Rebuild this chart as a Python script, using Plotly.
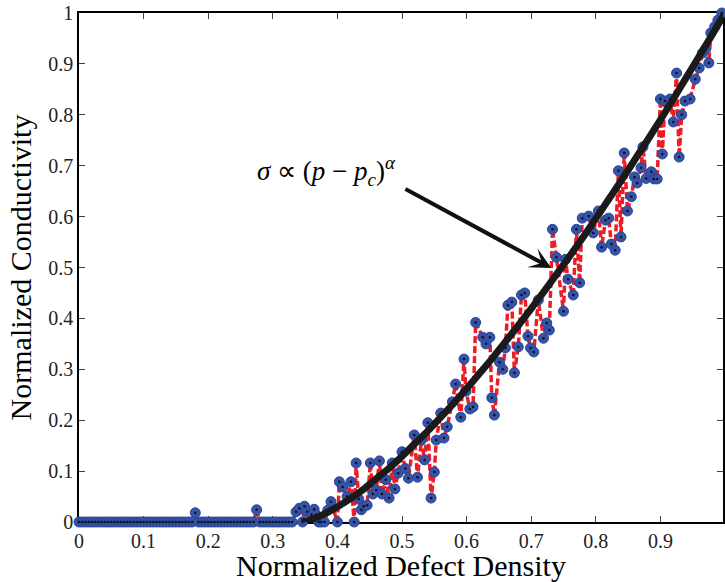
import plotly.graph_objects as go

# ---- data ----
# flat (non-conducting) region: sampled densities and their conductivity
flat_p = [i / 200 for i in range(66)]
flat_sigma = [0.0] * 66
flat_sigma[36] = 0.018   # p = 0.18
flat_sigma[55] = 0.024   # p = 0.275

# conducting region
rise_p = [0.330, 0.336, 0.341, 0.346, 0.349, 0.353, 0.360, 0.364, 0.367, 0.371,
          0.375, 0.380, 0.385, 0.390, 0.400, 0.403, 0.408, 0.415, 0.421, 0.426,
          0.429, 0.433, 0.437, 0.441, 0.446, 0.451, 0.455, 0.460, 0.465, 0.469,
          0.475, 0.480, 0.485, 0.489, 0.494, 0.500, 0.505, 0.510, 0.519, 0.524,
          0.530, 0.535, 0.540, 0.545, 0.550, 0.553, 0.560, 0.565, 0.570, 0.578,
          0.583, 0.591, 0.596, 0.599, 0.605, 0.610, 0.614, 0.625, 0.630, 0.636,
          0.639, 0.643, 0.651, 0.656, 0.660, 0.664, 0.670, 0.674, 0.680, 0.685,
          0.690, 0.695, 0.699, 0.704, 0.711, 0.719, 0.724, 0.728, 0.733, 0.739,
          0.750, 0.753, 0.757, 0.765, 0.770, 0.775, 0.779, 0.789, 0.796, 0.804,
          0.809, 0.815, 0.820, 0.824, 0.830, 0.835, 0.839, 0.844, 0.849, 0.855,
          0.860, 0.864, 0.870, 0.873, 0.878, 0.886, 0.890, 0.895, 0.900, 0.903,
          0.907, 0.915, 0.920, 0.925, 0.929, 0.933, 0.938, 0.946, 0.954, 0.960,
          0.965, 0.970, 0.975, 0.978, 0.984, 0.989, 0.995]
rise_sigma = [0.000, 0.020, 0.027, 0.000, 0.031, 0.020, 0.014, 0.025, 0.014, 0.000,
              0.000, 0.000, 0.023, 0.040, 0.000, 0.079, 0.069, 0.050, 0.079, 0.000,
              0.116, 0.045, 0.024, 0.031, 0.033, 0.116, 0.055, 0.063, 0.120, 0.055,
              0.083, 0.047, 0.116, 0.065, 0.096, 0.138, 0.105, 0.086, 0.171, 0.088,
              0.161, 0.122, 0.195, 0.047, 0.098, 0.161, 0.214, 0.165, 0.187, 0.236,
              0.271, 0.206, 0.320, 0.257, 0.222, 0.226, 0.392, 0.363, 0.350, 0.363,
              0.244, 0.210, 0.314, 0.300, 0.342, 0.426, 0.432, 0.293, 0.344, 0.446,
              0.450, 0.365, 0.342, 0.334, 0.436, 0.361, 0.391, 0.377, 0.575, 0.520,
              0.414, 0.516, 0.477, 0.446, 0.575, 0.470, 0.597, 0.601, 0.568, 0.611,
              0.540, 0.593, 0.597, 0.546, 0.534, 0.690, 0.560, 0.725, 0.611, 0.639,
              0.678, 0.666, 0.696, 0.737, 0.675, 0.688, 0.674, 0.674, 0.831, 0.723,
              0.827, 0.831, 0.786, 0.882, 0.717, 0.800, 0.827, 0.831, 0.870, 0.892,
              0.921, 0.929, 0.902, 0.961, 0.973, 0.986, 1.000]

# power-law fit curve sigma ~ (p - pc)^alpha
fit_p = [0.345, 0.36, 0.38, 0.40, 0.42, 0.44, 0.46, 0.48, 0.50, 0.52, 0.54, 0.56,
         0.58, 0.60, 0.62, 0.64, 0.66, 0.68, 0.70, 0.72, 0.74, 0.76, 0.78, 0.80,
         0.82, 0.84, 0.86, 0.88, 0.90, 0.92, 0.94, 0.96, 0.98, 1.00]
fit_sigma = [0.000, 0.005, 0.016, 0.030, 0.046, 0.064, 0.085, 0.106, 0.129, 0.154,
             0.179, 0.206, 0.233, 0.262, 0.292, 0.322, 0.354, 0.386, 0.419, 0.453,
             0.488, 0.523, 0.559, 0.596, 0.634, 0.672, 0.711, 0.750, 0.790, 0.831,
             0.873, 0.915, 0.957, 1.000]

x_ticks = [0, 0.1, 0.2, 0.3, 0.4, 0.5, 0.6, 0.7, 0.8, 0.9]
x_ticklabels = ["0", "0.1", "0.2", "0.3", "0.4", "0.5", "0.6", "0.7", "0.8", "0.9"]
y_ticks = [0, 0.1, 0.2, 0.3, 0.4, 0.5, 0.6, 0.7, 0.8, 0.9, 1]
y_ticklabels = ["0", "0.1", "0.2", "0.3", "0.4", "0.5", "0.6", "0.7", "0.8", "0.9", "1"]

p_all = flat_p + rise_p
s_all = flat_sigma + rise_sigma

FONT = "Liberation Serif"

fig = go.Figure()
fig.add_trace(go.Scatter(x=p_all, y=s_all, mode="lines",
                         line=dict(color="#ee1c24", width=3.5, dash="7px,3px"),
                         cliponaxis=False, hoverinfo="skip"))
fig.add_trace(go.Scatter(x=p_all, y=s_all, mode="markers",
                         marker=dict(color="#3553a8", size=10,
                                     line=dict(color="#2a4596", width=1)),
                         cliponaxis=False, hoverinfo="skip"))
fig.add_trace(go.Scatter(x=p_all, y=s_all, mode="markers",
                         marker=dict(color="#111111", size=2.5),
                         cliponaxis=False, hoverinfo="skip"))
fig.add_trace(go.Scatter(x=fit_p, y=fit_sigma, mode="lines", line_shape="spline",
                         line=dict(color="#1a1a1a", width=7),
                         cliponaxis=False, hoverinfo="skip"))

axis_common = dict(showgrid=False, zeroline=False, showline=True, linecolor="black",
                   linewidth=1.5, mirror="ticks", ticks="inside", ticklen=6,
                   tickcolor="#444444", tickwidth=1,
                   tickfont=dict(family=FONT, size=20, color="#222222"),
                   layer="below traces")

fig.update_layout(
    width=725, height=582,
    margin=dict(l=79, r=0, t=13, b=60),
    plot_bgcolor="white", paper_bgcolor="white",
    showlegend=False,
    xaxis=dict(range=[0, 0.9969], tickvals=x_ticks, ticktext=x_ticklabels,
               title=dict(text="Normalized Defect Density",
                          font=dict(family=FONT, size=30, color="black"), standoff=8),
               **axis_common),
    yaxis=dict(range=[0, 1], tickvals=y_ticks, ticktext=y_ticklabels,
               title=dict(text="Normalized Conductivity",
                          font=dict(family=FONT, size=30, color="black"), standoff=8),
               **axis_common),
)

# partially visible "1" tick label at the right edge
fig.add_annotation(x=1.0, y=0, xref="x", yref="paper", yanchor="top", yshift=-6,
                   text="1", showarrow=False,
                   font=dict(family=FONT, size=20, color="#222222"))

# arrow
fig.add_annotation(x=0.731, y=0.499, ax=0.503, ay=0.656, xref="x", yref="y",
                   axref="x", ayref="y", text="", showarrow=True,
                   arrowhead=3, arrowsize=0.9, arrowwidth=4, arrowcolor="#111111",
                   standoff=0, startstandoff=0)
# formula
fig.add_annotation(x=0.383, y=0.690, xref="x", yref="y", showarrow=False,
                   text="<i>σ</i> ∝ (<i>p</i> − <i>p</i><sub><i>c</i></sub>)<sup><i>α</i></sup>",
                   font=dict(family=FONT, size=27, color="black"))

fig.write_html("out.html")
